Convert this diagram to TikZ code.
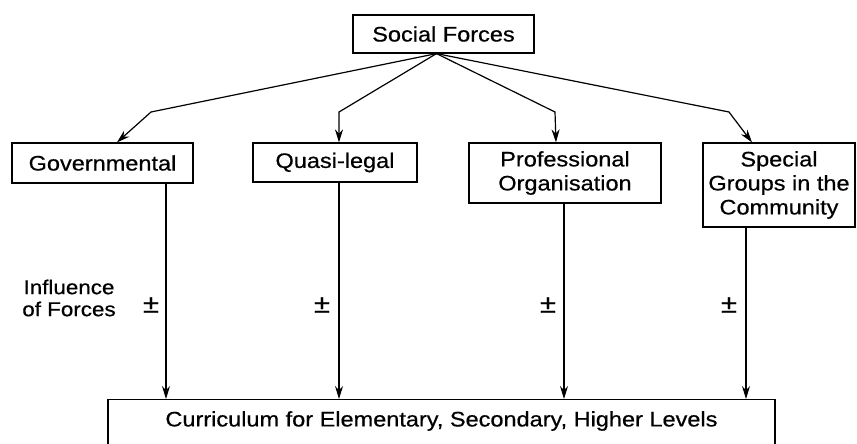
\documentclass[tikz,border=0pt]{standalone}
\usepackage{fontspec}
\setmainfont[FakeStretch=1.12,FakeBold=0.6]{Liberation Sans}
\usetikzlibrary{arrows.meta,calc}
\begin{document}
\begin{tikzpicture}[x=1pt,y=-1pt,
  box/.style={draw,line width=1.2pt,inner sep=0pt,align=center,font=\fontsize{21}{24}\selectfont},
  arr/.style={line width=1.2pt,-{Stealth[length=13pt,width=8pt]}},
  lbl/.style={font=\fontsize{21}{24}\selectfont,inner sep=0pt},
  infl/.style={font=\fontsize{20}{22}\selectfont,inner sep=0pt,align=center},
  pm/.style={font=\fontsize{26}{26}\selectfont,inner sep=0pt}]
\useasboundingbox (0,0) rectangle (857,444);
\node[box,minimum width=181,minimum height=38] (sf) at (443.5,34) {Social Forces};
\node[box,minimum width=181,minimum height=40] (gov) at (102.5,163) {Governmental};
\node[box,minimum width=164,minimum height=39] (quasi) at (335,162.5) {Quasi-legal};
\node[box,minimum width=192,minimum height=60] (prof) at (565,173) {Professional\\Organisation};
\node[box,minimum width=152,minimum height=84] (spec) at (779,185) {Special\\Groups in the\\Community};
\node[box,minimum width=667,minimum height=90,anchor=north] (cur) at (441.5,399) {};
\node[lbl] (curt) at (441.5,421) {Curriculum for Elementary, Secondary, Higher Levels};
\node[infl] (infl) at (69,298) {Influence\\of Forces};
\node[pm] (pm1) at (151,305) {±};
\node[pm] (pm2) at (322,305) {±};
\node[pm] (pm3) at (548,305) {±};
\node[pm] (pm4) at (729,305) {±};
% top fan-out
\coordinate (src) at ($(sf.south)+(-7,0)$);
\coordinate (b1) at (151,112);
\coordinate (b2) at (339,112);
\coordinate (b3) at (555,112);
\coordinate (b4) at (729,112);
\draw[arr] (src) -- (b1) -- ($(gov.north)+(14.5,0)$);
\draw[arr] (src) -- (b2) -- ($(quasi.north)+(4,0)$);
\draw[arr] (src) -- (b3) -- ($(prof.north)+(-9,0)$);
\draw[arr] (src) -- (b4) -- ($(spec.north)+(-27,0)$);
% influence lines
\coordinate (g1) at ($(gov.south)+(63.5,0)$);
\coordinate (g2) at ($(quasi.south)+(4,0)$);
\coordinate (g3) at ($(prof.south)+(-1,0)$);
\coordinate (g4) at ($(spec.south)+(-33,0)$);
\draw[arr] (g1) -- (g1 |- cur.north);
\draw[arr] (g2) -- (g2 |- cur.north);
\draw[arr] (g3) -- (g3 |- cur.north);
\draw[arr] (g4) -- (g4 |- cur.north);
\end{tikzpicture}
\end{document}
